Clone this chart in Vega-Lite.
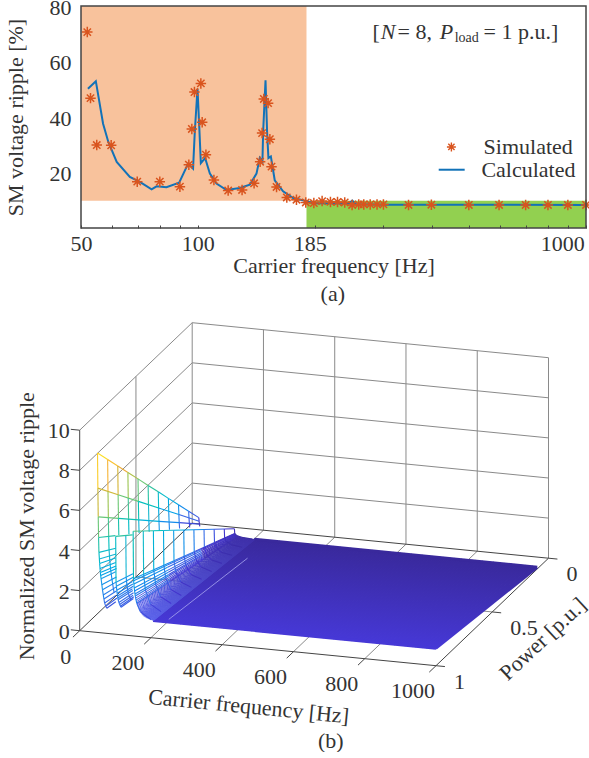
{"$schema":"https://vega.github.io/schema/vega-lite/v6.json","padding":{"left":4,"top":-4,"right":0,"bottom":0},"spacing":4,"background":"white","config":{"font":"Liberation Serif","text":{"font":"Liberation Serif","fontSize":22,"color":"#333"},"axis":{"labelFont":"Liberation Serif","titleFont":"Liberation Serif","labelFontSize":22,"titleFontSize":22,"titleFontWeight":"normal","labelColor":"#333","titleColor":"#333","grid":false}},
"datasets":{
"sim":[{"f":51.9,"v":70.6},{"f":52.9,"v":46.8},{"f":54.9,"v":29.9},{"f":59.8,"v":29.8},{"f":69.8,"v":16.7},{"f":79.8,"v":16.7},{"f":89.9,"v":14.9},{"f":94.8,"v":22.8},{"f":96.5,"v":35.7},{"f":98,"v":49},{"f":101.8,"v":52.1},{"f":102.6,"v":38.1},{"f":104.9,"v":26.4},{"f":110,"v":17.3},{"f":119.7,"v":13.5},{"f":130,"v":13.7},{"f":139.6,"v":16.1},{"f":144.7,"v":23.9},{"f":146.4,"v":34.2},{"f":147.9,"v":46.5},{"f":151.7,"v":45},{"f":153.3,"v":32},{"f":154.8,"v":22.1},{"f":159.5,"v":14.8},{"f":169.5,"v":11},{"f":179.5,"v":10.2},{"f":189.7,"v":9.2},{"f":199,"v":9},{"f":209,"v":9.7},{"f":219.6,"v":9.4},{"f":229,"v":9.4},{"f":239,"v":9.2},{"f":249.7,"v":8.3},{"f":259.7,"v":8.5},{"f":267.6,"v":8.5},{"f":278,"v":8.5},{"f":289.5,"v":8.5},{"f":300.7,"v":8.5},{"f":349,"v":8.3},{"f":399.6,"v":8.4},{"f":499,"v":8.3},{"f":597,"v":8.3},{"f":699,"v":8.3},{"f":798,"v":8.3},{"f":898,"v":8.3},{"f":1000,"v":8.3}],
"calc":[{"f":52.1,"v":50.2},{"f":54.6,"v":52.9},{"f":57,"v":37.6},{"f":58.8,"v":31},{"f":61.8,"v":23.8},{"f":66.8,"v":18.4},{"f":70.9,"v":16.6},{"f":76,"v":13.9},{"f":78.3,"v":15},{"f":83,"v":14.7},{"f":89.5,"v":16.3},{"f":94.4,"v":23.2},{"f":97.2,"v":21.4},{"f":98.2,"v":34.6},{"f":99.8,"v":50.2},{"f":100.8,"v":37},{"f":101.8,"v":23.4},{"f":104.4,"v":25.2},{"f":107.4,"v":19.6},{"f":111.7,"v":16},{"f":118.5,"v":13.7},{"f":128.3,"v":14.4},{"f":136.1,"v":15.6},{"f":141.6,"v":19.6},{"f":144.4,"v":25.3},{"f":146.7,"v":24},{"f":147.3,"v":34.6},{"f":149.4,"v":53.2},{"f":150.8,"v":34.6},{"f":152,"v":25.2},{"f":154.2,"v":25.8},{"f":157.8,"v":17.2},{"f":165.8,"v":13.2},{"f":176,"v":10.8},{"f":188.6,"v":9.8},{"f":199,"v":8.9},{"f":245,"v":8.8},{"f":250,"v":9.9},{"f":255,"v":8.6},{"f":310,"v":8.4},{"f":1000,"v":8.3}],
"d3":[
{"k":"g","f":0,"p":1,"z":2,"p2":0},{"k":"g","f":0,"p":1,"z":4,"p2":0},{"k":"g","f":0,"p":1,"z":6,"p2":0},{"k":"g","f":0,"p":1,"z":8,"p2":0},{"k":"g","f":0,"p":1,"z":10,"p2":0},
{"k":"g","f":0,"p":0,"z":2,"f2":1000},{"k":"g","f":0,"p":0,"z":4,"f2":1000},{"k":"g","f":0,"p":0,"z":6,"f2":1000},{"k":"g","f":0,"p":0,"z":8,"f2":1000},{"k":"g","f":0,"p":0,"z":10,"f2":1000},
{"k":"g","f":0,"p":0.5,"z":0,"z2":10},{"k":"g","f":0,"p":0,"z":0,"z2":10},{"k":"g","f":200,"p":0,"z":0,"z2":10},{"k":"g","f":400,"p":0,"z":0,"z2":10},{"k":"g","f":600,"p":0,"z":0,"z2":10},{"k":"g","f":800,"p":0,"z":0,"z2":10},{"k":"g","f":1000,"p":0,"z":0,"z2":10},
{"k":"g","f":200,"p":1,"z":0,"p2":0},{"k":"g","f":400,"p":1,"z":0,"p2":0},{"k":"g","f":600,"p":1,"z":0,"p2":0},{"k":"g","f":800,"p":1,"z":0,"p2":0},{"k":"g","f":0,"p":0.5,"z":0,"f2":1000},
{"k":"a","f":0,"p":1,"z":0,"z2":10},{"k":"a","f":0,"p":1,"z":0,"f2":1000},{"k":"a","f":1000,"p":1,"z":0,"p2":0},{"k":"a","f":0,"p":1,"z":0,"p2":0},{"k":"a","f":0,"p":0,"z":0,"f2":1000},
{"k":"a","f":0,"p":1,"z":0,"p2":1.06},{"k":"a","f":200,"p":1,"z":0,"p2":1.06},{"k":"a","f":400,"p":1,"z":0,"p2":1.06},{"k":"a","f":600,"p":1,"z":0,"p2":1.06},{"k":"a","f":800,"p":1,"z":0,"p2":1.06},{"k":"a","f":1000,"p":1,"z":0,"p2":1.06},
{"k":"a","f":1000,"p":1,"z":0,"f2":1025},{"k":"a","f":1000,"p":0.5,"z":0,"f2":1025},{"k":"a","f":1000,"p":0,"z":0,"f2":1025},
{"k":"a","f":0,"p":1,"z":0,"f2":-25},{"k":"a","f":0,"p":1,"z":2,"f2":-25},{"k":"a","f":0,"p":1,"z":4,"f2":-25},{"k":"a","f":0,"p":1,"z":6,"f2":-25},{"k":"a","f":0,"p":1,"z":8,"f2":-25},{"k":"a","f":0,"p":1,"z":10,"f2":-25},
{"k":"u","f":210,"p":1,"z":0.87,"p2":0.1,"z2":0.09},{"k":"u","f":220,"p":1,"z":0.87,"p2":0.1,"z2":0.09},{"k":"u","f":230,"p":1,"z":0.87,"p2":0.1,"z2":0.09},{"k":"u","f":240,"p":1,"z":0.87,"p2":0.1,"z2":0.09},{"k":"u","f":250,"p":1,"z":0.87,"p2":0.1,"z2":0.09},{"k":"u","f":260,"p":1,"z":0.87,"p2":0.1,"z2":0.09},{"k":"u","f":270,"p":1,"z":0.87,"p2":0.1,"z2":0.09},{"k":"u","f":280,"p":1,"z":0.87,"p2":0.1,"z2":0.09},{"k":"u","f":290,"p":1,"z":0.87,"p2":0.1,"z2":0.09},{"k":"u","f":300,"p":1,"z":0.87,"p2":0.1,"z2":0.09},{"k":"u","f":310,"p":1,"z":0.87,"p2":0.1,"z2":0.09},{"k":"u","f":320,"p":1,"z":0.87,"p2":0.1,"z2":0.09},{"k":"u","f":330,"p":1,"z":0.87,"p2":0.1,"z2":0.09},{"k":"u","f":340,"p":1,"z":0.87,"p2":0.1,"z2":0.09},{"k":"u","f":350,"p":1,"z":0.87,"p2":0.1,"z2":0.09},{"k":"u","f":360,"p":1,"z":0.87,"p2":0.1,"z2":0.09},{"k":"u","f":370,"p":1,"z":0.87,"p2":0.1,"z2":0.09},{"k":"u","f":380,"p":1,"z":0.87,"p2":0.1,"z2":0.09},{"k":"u","f":390,"p":1,"z":0.87,"p2":0.1,"z2":0.09},{"k":"u","f":400,"p":1,"z":0.87,"p2":0.1,"z2":0.09},{"k":"u","f":410,"p":1,"z":0.87,"p2":0.1,"z2":0.09},{"k":"u","f":420,"p":1,"z":0.87,"p2":0.1,"z2":0.09},{"k":"u","f":430,"p":1,"z":0.87,"p2":0.1,"z2":0.09},{"k":"u","f":440,"p":1,"z":0.87,"p2":0.1,"z2":0.09},{"k":"u","f":450,"p":1,"z":0.87,"p2":0.1,"z2":0.09},{"k":"u","f":460,"p":1,"z":0.87,"p2":0.1,"z2":0.09},{"k":"u","f":470,"p":1,"z":0.87,"p2":0.1,"z2":0.09},{"k":"u","f":480,"p":1,"z":0.87,"p2":0.1,"z2":0.09},{"k":"u","f":490,"p":1,"z":0.87,"p2":0.1,"z2":0.09},{"k":"u","f":500,"p":1,"z":0.87,"p2":0.1,"z2":0.09},{"k":"u","f":510,"p":1,"z":0.87,"p2":0.1,"z2":0.09},{"k":"u","f":520,"p":1,"z":0.87,"p2":0.1,"z2":0.09},{"k":"u","f":530,"p":1,"z":0.87,"p2":0.1,"z2":0.09},{"k":"u","f":540,"p":1,"z":0.87,"p2":0.1,"z2":0.09},{"k":"u","f":550,"p":1,"z":0.87,"p2":0.1,"z2":0.09},{"k":"u","f":560,"p":1,"z":0.87,"p2":0.1,"z2":0.09},{"k":"u","f":570,"p":1,"z":0.87,"p2":0.1,"z2":0.09},{"k":"u","f":580,"p":1,"z":0.87,"p2":0.1,"z2":0.09},{"k":"u","f":590,"p":1,"z":0.87,"p2":0.1,"z2":0.09},{"k":"u","f":600,"p":1,"z":0.87,"p2":0.1,"z2":0.09},{"k":"u","f":610,"p":1,"z":0.87,"p2":0.1,"z2":0.09},{"k":"u","f":620,"p":1,"z":0.87,"p2":0.1,"z2":0.09},{"k":"u","f":630,"p":1,"z":0.87,"p2":0.1,"z2":0.09},{"k":"u","f":640,"p":1,"z":0.87,"p2":0.1,"z2":0.09},{"k":"u","f":650,"p":1,"z":0.87,"p2":0.1,"z2":0.09},{"k":"u","f":660,"p":1,"z":0.87,"p2":0.1,"z2":0.09},{"k":"u","f":670,"p":1,"z":0.87,"p2":0.1,"z2":0.09},{"k":"u","f":680,"p":1,"z":0.87,"p2":0.1,"z2":0.09},{"k":"u","f":690,"p":1,"z":0.87,"p2":0.1,"z2":0.09},{"k":"u","f":700,"p":1,"z":0.87,"p2":0.1,"z2":0.09},{"k":"u","f":710,"p":1,"z":0.87,"p2":0.1,"z2":0.09},{"k":"u","f":720,"p":1,"z":0.87,"p2":0.1,"z2":0.09},{"k":"u","f":730,"p":1,"z":0.87,"p2":0.1,"z2":0.09},{"k":"u","f":740,"p":1,"z":0.87,"p2":0.1,"z2":0.09},{"k":"u","f":750,"p":1,"z":0.87,"p2":0.1,"z2":0.09},{"k":"u","f":760,"p":1,"z":0.87,"p2":0.1,"z2":0.09},{"k":"u","f":770,"p":1,"z":0.87,"p2":0.1,"z2":0.09},{"k":"u","f":780,"p":1,"z":0.87,"p2":0.1,"z2":0.09},{"k":"u","f":790,"p":1,"z":0.87,"p2":0.1,"z2":0.09},{"k":"u","f":800,"p":1,"z":0.87,"p2":0.1,"z2":0.09},{"k":"u","f":810,"p":1,"z":0.87,"p2":0.1,"z2":0.09},{"k":"u","f":820,"p":1,"z":0.87,"p2":0.1,"z2":0.09},{"k":"u","f":830,"p":1,"z":0.87,"p2":0.1,"z2":0.09},{"k":"u","f":840,"p":1,"z":0.87,"p2":0.1,"z2":0.09},{"k":"u","f":850,"p":1,"z":0.87,"p2":0.1,"z2":0.09},{"k":"u","f":860,"p":1,"z":0.87,"p2":0.1,"z2":0.09},{"k":"u","f":870,"p":1,"z":0.87,"p2":0.1,"z2":0.09},{"k":"u","f":880,"p":1,"z":0.87,"p2":0.1,"z2":0.09},{"k":"u","f":890,"p":1,"z":0.87,"p2":0.1,"z2":0.09},{"k":"u","f":900,"p":1,"z":0.87,"p2":0.1,"z2":0.09},{"k":"u","f":910,"p":1,"z":0.87,"p2":0.1,"z2":0.09},{"k":"u","f":920,"p":1,"z":0.87,"p2":0.1,"z2":0.09},{"k":"u","f":930,"p":1,"z":0.87,"p2":0.1,"z2":0.09},{"k":"u","f":940,"p":1,"z":0.87,"p2":0.1,"z2":0.09},{"k":"u","f":950,"p":1,"z":0.87,"p2":0.1,"z2":0.09},{"k":"u","f":960,"p":1,"z":0.87,"p2":0.1,"z2":0.09},{"k":"u","f":970,"p":1,"z":0.87,"p2":0.1,"z2":0.09},{"k":"u","f":980,"p":1,"z":0.87,"p2":0.1,"z2":0.09},{"k":"u","f":990,"p":1,"z":0.87,"p2":0.1,"z2":0.09},{"k":"u","f":999,"p":1,"z":0.87,"p2":0.1,"z2":0.09},
{"k":"e1","f":206,"f2":1000,"p":1,"z":0.87,"z2":0.87},{"k":"e2","f":206,"f2":1000,"p":0.1,"z":0.09,"z2":0.09},
{"k":"s","f":157,"p":1,"z":1.9,"p2":0.1,"z2":0.19},{"k":"s","f":159,"p":1,"z":1.72,"p2":0.1,"z2":0.17},{"k":"s","f":161,"p":1,"z":1.62,"p2":0.1,"z2":0.16},{"k":"s","f":163,"p":1,"z":1.53,"p2":0.1,"z2":0.15},{"k":"s","f":165,"p":1,"z":1.43,"p2":0.1,"z2":0.14},{"k":"s","f":167,"p":1,"z":1.34,"p2":0.1,"z2":0.13},{"k":"s","f":169,"p":1,"z":1.28,"p2":0.1,"z2":0.13},{"k":"s","f":171,"p":1,"z":1.22,"p2":0.1,"z2":0.12},{"k":"s","f":173,"p":1,"z":1.17,"p2":0.1,"z2":0.12},{"k":"s","f":175,"p":1,"z":1.13,"p2":0.1,"z2":0.11},{"k":"s","f":177,"p":1,"z":1.09,"p2":0.1,"z2":0.11},{"k":"s","f":179,"p":1,"z":1.06,"p2":0.1,"z2":0.11},{"k":"s","f":181,"p":1,"z":1.04,"p2":0.1,"z2":0.1},{"k":"s","f":183,"p":1,"z":1.02,"p2":0.1,"z2":0.1},{"k":"s","f":185,"p":1,"z":1,"p2":0.1,"z2":0.1},{"k":"s","f":187,"p":1,"z":0.98,"p2":0.1,"z2":0.1},{"k":"s","f":189,"p":1,"z":0.97,"p2":0.1,"z2":0.1},{"k":"s","f":191,"p":1,"z":0.96,"p2":0.1,"z2":0.1},{"k":"s","f":193,"p":1,"z":0.95,"p2":0.1,"z2":0.09},{"k":"s","f":195,"p":1,"z":0.94,"p2":0.1,"z2":0.09},{"k":"s","f":197,"p":1,"z":0.93,"p2":0.1,"z2":0.09},{"k":"s","f":199,"p":1,"z":0.91,"p2":0.1,"z2":0.09},{"k":"s","f":201,"p":1,"z":0.9,"p2":0.1,"z2":0.09},{"k":"s","f":202,"p":1,"z":0.9,"p2":0.1,"z2":0.09},{"k":"s","f":204,"p":1,"z":0.89,"p2":0.1,"z2":0.09},{"k":"s","f":205,"p":1,"z":0.88,"p2":0.1,"z2":0.09},{"k":"s","f":207,"p":1,"z":0.88,"p2":0.1,"z2":0.09},{"k":"s","f":208,"p":1,"z":0.88,"p2":0.1,"z2":0.09},
{"k":"s","f":162,"p":1,"z":1.58,"p2":0.1,"z2":0.16},{"k":"s","f":164,"p":1,"z":1.48,"p2":0.1,"z2":0.15},{"k":"s","f":166,"p":1,"z":1.38,"p2":0.1,"z2":0.14},{"k":"s","f":168,"p":1,"z":1.31,"p2":0.1,"z2":0.13},{"k":"s","f":170,"p":1,"z":1.25,"p2":0.1,"z2":0.13},{"k":"s","f":172,"p":1,"z":1.2,"p2":0.1,"z2":0.12},{"k":"s","f":174,"p":1,"z":1.15,"p2":0.1,"z2":0.12},{"k":"s","f":176,"p":1,"z":1.11,"p2":0.1,"z2":0.11},{"k":"s","f":178,"p":1,"z":1.08,"p2":0.1,"z2":0.11},{"k":"s","f":180,"p":1,"z":1.05,"p2":0.1,"z2":0.11},{"k":"s","f":182,"p":1,"z":1.03,"p2":0.1,"z2":0.1},{"k":"s","f":184,"p":1,"z":1.01,"p2":0.1,"z2":0.1},{"k":"s","f":186,"p":1,"z":0.99,"p2":0.1,"z2":0.1},{"k":"s","f":188,"p":1,"z":0.97,"p2":0.1,"z2":0.1},{"k":"s","f":190,"p":1,"z":0.96,"p2":0.1,"z2":0.1},{"k":"s","f":192,"p":1,"z":0.95,"p2":0.1,"z2":0.1},{"k":"s","f":194,"p":1,"z":0.94,"p2":0.1,"z2":0.09},{"k":"s","f":196,"p":1,"z":0.93,"p2":0.1,"z2":0.09},{"k":"s","f":198,"p":1,"z":0.92,"p2":0.1,"z2":0.09},{"k":"s","f":200,"p":1,"z":0.9,"p2":0.1,"z2":0.09},{"k":"s","f":203,"p":1,"z":0.89,"p2":0.1,"z2":0.09},{"k":"s","f":206,"p":1,"z":0.88,"p2":0.1,"z2":0.09},
{"k":"l","f":250,"p":1,"z":1,"p2":0.3,"z2":0.3},
{"k":"m","f":50,"p":1,"z":8.95,"p2":0.91,"z2":8.14},{"k":"m","f":50,"p":0.91,"z":8.14,"p2":0.82,"z2":7.34},{"k":"m","f":50,"p":0.82,"z":7.34,"p2":0.73,"z2":6.53},{"k":"m","f":50,"p":0.73,"z":6.53,"p2":0.64,"z2":5.73},{"k":"m","f":50,"p":0.64,"z":5.73,"p2":0.55,"z2":4.92},{"k":"m","f":50,"p":0.55,"z":4.92,"p2":0.46,"z2":4.12},{"k":"m","f":50,"p":0.46,"z":4.12,"p2":0.37,"z2":3.31},{"k":"m","f":50,"p":0.37,"z":3.31,"p2":0.28,"z2":2.51},{"k":"m","f":50,"p":0.28,"z":2.51,"p2":0.19,"z2":1.7},{"k":"m","f":50,"p":0.19,"z":1.7,"p2":0.1,"z2":0.9},
{"k":"m","f":51,"p":1,"z":7.2,"p2":0.82,"z2":5.9},{"k":"m","f":51,"p":0.82,"z":5.9,"p2":0.64,"z2":4.61},{"k":"m","f":51,"p":0.64,"z":4.61,"p2":0.46,"z2":3.31},{"k":"m","f":51,"p":0.46,"z":3.31,"p2":0.28,"z2":2.02},{"k":"m","f":51,"p":0.28,"z":2.02,"p2":0.1,"z2":0.72},
{"k":"m","f":52,"p":1,"z":5.77,"p2":0.82,"z2":4.73},{"k":"m","f":52,"p":0.82,"z":4.73,"p2":0.64,"z2":3.69},{"k":"m","f":52,"p":0.64,"z":3.69,"p2":0.46,"z2":2.65},{"k":"m","f":52,"p":0.46,"z":2.65,"p2":0.28,"z2":1.62},{"k":"m","f":52,"p":0.28,"z":1.62,"p2":0.1,"z2":0.58},
{"k":"m","f":53,"p":1,"z":4.74,"p2":0.85,"z2":4.03},{"k":"m","f":54,"p":1,"z":4,"p2":0.85,"z2":3.4},{"k":"m","f":55,"p":1,"z":3.67,"p2":0.85,"z2":3.12},{"k":"m","f":56,"p":1,"z":3.45,"p2":0.86,"z2":2.97},{"k":"m","f":57,"p":1,"z":3.2,"p2":0.86,"z2":2.75},{"k":"m","f":58,"p":1,"z":3,"p2":0.86,"z2":2.58},{"k":"m","f":59,"p":1,"z":2.85,"p2":0.86,"z2":2.45},{"k":"m","f":60,"p":1,"z":2.7,"p2":0.87,"z2":2.35},{"k":"m","f":62,"p":1,"z":2.4,"p2":0.87,"z2":2.09},{"k":"m","f":64,"p":1,"z":2.15,"p2":0.88,"z2":1.89},{"k":"m","f":66,"p":1,"z":1.9,"p2":0.88,"z2":1.67},{"k":"m","f":68,"p":1,"z":1.7,"p2":0.89,"z2":1.51},{"k":"m","f":70,"p":1,"z":1.5,"p2":0.9,"z2":1.35},{"k":"m","f":73,"p":1,"z":1.35,"p2":0.9,"z2":1.22},{"k":"m","f":76,"p":1,"z":1.25,"p2":0.92,"z2":1.15},
{"k":"m","f":50,"f2":51,"p":1,"z":8.95,"z2":7.2},{"k":"m","f":51,"f2":52,"p":1,"z":7.2,"z2":5.77},{"k":"m","f":52,"f2":53,"p":1,"z":5.77,"z2":4.74},{"k":"m","f":53,"f2":54,"p":1,"z":4.74,"z2":4},{"k":"m","f":54,"f2":56,"p":1,"z":4,"z2":3.45},{"k":"m","f":56,"f2":58,"p":1,"z":3.45,"z2":3},{"k":"m","f":58,"f2":60,"p":1,"z":3,"z2":2.7},{"k":"m","f":60,"f2":64,"p":1,"z":2.7,"z2":2.15},{"k":"m","f":64,"f2":68,"p":1,"z":2.15,"z2":1.7},{"k":"m","f":68,"f2":70,"p":1,"z":1.7,"z2":1.5},{"k":"m","f":70,"f2":73,"p":1,"z":1.5,"z2":1.35},{"k":"m","f":73,"f2":76,"p":1,"z":1.35,"z2":1.25},
{"k":"m","f":50,"f2":51,"p":0.91,"z":8.14,"z2":6.55},{"k":"m","f":51,"f2":52,"p":0.91,"z":6.55,"z2":5.25},{"k":"m","f":52,"f2":53,"p":0.91,"z":5.25,"z2":4.31},{"k":"m","f":53,"f2":54,"p":0.91,"z":4.31,"z2":3.64},{"k":"m","f":54,"f2":56,"p":0.91,"z":3.64,"z2":3.14},{"k":"m","f":56,"f2":58,"p":0.91,"z":3.14,"z2":2.73},{"k":"m","f":58,"f2":60,"p":0.91,"z":2.73,"z2":2.46},{"k":"m","f":60,"f2":64,"p":0.91,"z":2.46,"z2":1.96},{"k":"m","f":64,"f2":68,"p":0.91,"z":1.96,"z2":1.55},
{"k":"m","f":50,"f2":51,"p":0.82,"z":7.34,"z2":5.9},{"k":"m","f":51,"f2":52,"p":0.82,"z":5.9,"z2":4.73},{"k":"m","f":52,"f2":53,"p":0.82,"z":4.73,"z2":3.89},
{"k":"m","f":50,"f2":51,"p":0.73,"z":6.53,"z2":5.26},{"k":"m","f":51,"f2":52,"p":0.73,"z":5.26,"z2":4.21},{"k":"m","f":52,"f2":53,"p":0.73,"z":4.21,"z2":3.46},
{"k":"m","f":50,"f2":51,"p":0.64,"z":5.73,"z2":4.61},{"k":"m","f":51,"f2":52,"p":0.64,"z":4.61,"z2":3.69},{"k":"m","f":52,"f2":53,"p":0.64,"z":3.69,"z2":3.03},
{"k":"m","f":50,"f2":51,"p":0.55,"z":4.92,"z2":3.96},{"k":"m","f":51,"f2":52,"p":0.55,"z":3.96,"z2":3.17},{"k":"m","f":52,"f2":53,"p":0.55,"z":3.17,"z2":2.61},
{"k":"m","f":50,"f2":51,"p":0.46,"z":4.12,"z2":3.31},{"k":"m","f":51,"f2":52,"p":0.46,"z":3.31,"z2":2.65},{"k":"m","f":52,"f2":53,"p":0.46,"z":2.65,"z2":2.18},
{"k":"m","f":50,"f2":51,"p":0.37,"z":3.31,"z2":2.66},{"k":"m","f":51,"f2":52,"p":0.37,"z":2.66,"z2":2.13},{"k":"m","f":52,"f2":53,"p":0.37,"z":2.13,"z2":1.75},
{"k":"m","f":50,"f2":51,"p":0.28,"z":2.51,"z2":2.02},{"k":"m","f":51,"f2":52,"p":0.28,"z":2.02,"z2":1.62},{"k":"m","f":52,"f2":53,"p":0.28,"z":1.62,"z2":1.33},
{"k":"m","f":50,"f2":51,"p":0.19,"z":1.7,"z2":1.37},{"k":"m","f":51,"f2":52,"p":0.19,"z":1.37,"z2":1.1},{"k":"m","f":52,"f2":53,"p":0.19,"z":1.1,"z2":0.9},
{"k":"m","f":50,"f2":51,"p":0.1,"z":0.9,"z2":0.72},{"k":"m","f":51,"f2":52,"p":0.1,"z":0.72,"z2":0.58},{"k":"m","f":52,"f2":53,"p":0.1,"z":0.58,"z2":0.47},
{"k":"m","f":101,"p":1,"z":4.88,"p2":0.85,"z2":4.15},{"k":"m","f":102,"p":1,"z":2.6,"p2":0.85,"z2":2.21},{"k":"m","f":103,"p":1,"z":2.4,"p2":0.85,"z2":2.04},{"k":"m","f":104,"p":1,"z":2.2,"p2":0.86,"z2":1.89},{"k":"m","f":105,"p":1,"z":2.05,"p2":0.86,"z2":1.76},{"k":"m","f":106,"p":1,"z":1.92,"p2":0.86,"z2":1.65},{"k":"m","f":107,"p":1,"z":1.82,"p2":0.87,"z2":1.58},{"k":"m","f":108,"p":1,"z":1.73,"p2":0.87,"z2":1.5},{"k":"m","f":110,"p":1,"z":1.6,"p2":0.87,"z2":1.39},{"k":"m","f":112,"p":1,"z":1.5,"p2":0.88,"z2":1.32},{"k":"m","f":114,"p":1,"z":1.42,"p2":0.88,"z2":1.25},{"k":"m","f":116,"p":1,"z":1.37,"p2":0.89,"z2":1.22},
{"k":"m","f":101,"f2":102,"p":1,"z":4.88,"z2":2.6},{"k":"m","f":102,"f2":103,"p":1,"z":2.6,"z2":2.4},{"k":"m","f":103,"f2":105,"p":1,"z":2.4,"z2":2.05},{"k":"m","f":105,"f2":108,"p":1,"z":2.05,"z2":1.73},{"k":"m","f":108,"f2":112,"p":1,"z":1.73,"z2":1.5},{"k":"m","f":112,"f2":116,"p":1,"z":1.5,"z2":1.37},
{"k":"m","f":101,"f2":102,"p":0.91,"z":4.44,"z2":2.37},{"k":"m","f":102,"f2":103,"p":0.91,"z":2.37,"z2":2.18},{"k":"m","f":103,"f2":105,"p":0.91,"z":2.18,"z2":1.87},{"k":"m","f":105,"f2":108,"p":0.91,"z":1.87,"z2":1.57},{"k":"m","f":108,"f2":112,"p":0.91,"z":1.57,"z2":1.37},{"k":"m","f":112,"f2":116,"p":0.91,"z":1.37,"z2":1.25},
{"k":"m","f":150,"p":1,"z":5.22,"p2":0.91,"z2":4.75},{"k":"m","f":150,"p":0.91,"z":4.75,"p2":0.82,"z2":4.28},{"k":"m","f":150,"p":0.82,"z":4.28,"p2":0.73,"z2":3.81},{"k":"m","f":150,"p":0.73,"z":3.81,"p2":0.64,"z2":3.34},{"k":"m","f":150,"p":0.64,"z":3.34,"p2":0.55,"z2":2.87},{"k":"m","f":150,"p":0.55,"z":2.87,"p2":0.46,"z2":2.4},{"k":"m","f":150,"p":0.46,"z":2.4,"p2":0.37,"z2":1.93},{"k":"m","f":150,"p":0.37,"z":1.93,"p2":0.28,"z2":1.46},{"k":"m","f":150,"p":0.28,"z":1.46,"p2":0.19,"z2":0.99},{"k":"m","f":150,"p":0.19,"z":0.99,"p2":0.1,"z2":0.52},
{"k":"m","f":151,"p":1,"z":2.85,"p2":0.82,"z2":2.34},{"k":"m","f":151,"p":0.82,"z":2.34,"p2":0.64,"z2":1.82},{"k":"m","f":151,"p":0.64,"z":1.82,"p2":0.46,"z2":1.31},{"k":"m","f":151,"p":0.46,"z":1.31,"p2":0.28,"z2":0.8},{"k":"m","f":151,"p":0.28,"z":0.8,"p2":0.1,"z2":0.29},
{"k":"m","f":151.4,"p":1,"z":2.75,"p2":0.7,"z2":1.93},{"k":"m","f":151.4,"p":0.7,"z":1.93,"p2":0.4,"z2":1.1},{"k":"m","f":151.4,"p":0.4,"z":1.1,"p2":0.1,"z2":0.28},
{"k":"m","f":152,"p":1,"z":2.6,"p2":0.7,"z2":1.82},{"k":"m","f":152,"p":0.7,"z":1.82,"p2":0.4,"z2":1.04},{"k":"m","f":152,"p":0.4,"z":1.04,"p2":0.1,"z2":0.26},
{"k":"m","f":153,"p":1,"z":2.4,"p2":0.7,"z2":1.68},{"k":"m","f":153,"p":0.7,"z":1.68,"p2":0.4,"z2":0.96},{"k":"m","f":153,"p":0.4,"z":0.96,"p2":0.1,"z2":0.24},
{"k":"m","f":154,"p":1,"z":2.25,"p2":0.7,"z2":1.58},{"k":"m","f":154,"p":0.7,"z":1.58,"p2":0.4,"z2":0.9},{"k":"m","f":154,"p":0.4,"z":0.9,"p2":0.1,"z2":0.23},
{"k":"m","f":155,"p":1,"z":2.1,"p2":0.7,"z2":1.47},{"k":"m","f":155,"p":0.7,"z":1.47,"p2":0.4,"z2":0.84},{"k":"m","f":155,"p":0.4,"z":0.84,"p2":0.1,"z2":0.21},
{"k":"m","f":156,"p":1,"z":2,"p2":0.7,"z2":1.4},{"k":"m","f":156,"p":0.7,"z":1.4,"p2":0.4,"z2":0.8},{"k":"m","f":156,"p":0.4,"z":0.8,"p2":0.1,"z2":0.2},
{"k":"m","f":158,"p":1,"z":1.8,"p2":0.7,"z2":1.26},{"k":"m","f":158,"p":0.7,"z":1.26,"p2":0.4,"z2":0.72},{"k":"m","f":158,"p":0.4,"z":0.72,"p2":0.1,"z2":0.18},
{"k":"m","f":160,"p":1,"z":1.65,"p2":0.7,"z2":1.16},{"k":"m","f":160,"p":0.7,"z":1.16,"p2":0.4,"z2":0.66},{"k":"m","f":160,"p":0.4,"z":0.66,"p2":0.1,"z2":0.17},
{"k":"m","f":150,"f2":151,"p":1,"z":5.22,"z2":2.85},{"k":"m","f":151,"f2":153,"p":1,"z":2.85,"z2":2.4},{"k":"m","f":153,"f2":156,"p":1,"z":2.4,"z2":2},{"k":"m","f":156,"f2":160,"p":1,"z":2,"z2":1.65},{"k":"m","f":160,"f2":170,"p":1,"z":1.65,"z2":1.25},{"k":"m","f":170,"f2":200,"p":1,"z":1.25,"z2":0.9},
{"k":"m","f":150,"f2":151,"p":0.91,"z":4.75,"z2":2.59},{"k":"m","f":151,"f2":156,"p":0.91,"z":2.59,"z2":1.82},{"k":"m","f":156,"f2":170,"p":0.91,"z":1.82,"z2":1.14},{"k":"m","f":170,"f2":200,"p":0.91,"z":1.14,"z2":0.82},
{"k":"m","f":150,"f2":151,"p":0.82,"z":4.28,"z2":2.34},{"k":"m","f":151,"f2":156,"p":0.82,"z":2.34,"z2":1.64},{"k":"m","f":156,"f2":170,"p":0.82,"z":1.64,"z2":1.03},{"k":"m","f":170,"f2":200,"p":0.82,"z":1.03,"z2":0.74},
{"k":"m","f":150,"f2":151,"p":0.73,"z":3.81,"z2":2.08},{"k":"m","f":151,"f2":156,"p":0.73,"z":2.08,"z2":1.46},{"k":"m","f":156,"f2":170,"p":0.73,"z":1.46,"z2":0.91},{"k":"m","f":170,"f2":200,"p":0.73,"z":0.91,"z2":0.66},
{"k":"m","f":150,"f2":151,"p":0.64,"z":3.34,"z2":1.82},{"k":"m","f":151,"f2":156,"p":0.64,"z":1.82,"z2":1.28},{"k":"m","f":156,"f2":170,"p":0.64,"z":1.28,"z2":0.8},{"k":"m","f":170,"f2":200,"p":0.64,"z":0.8,"z2":0.58},
{"k":"m","f":150,"f2":151,"p":0.55,"z":2.87,"z2":1.57},{"k":"m","f":151,"f2":156,"p":0.55,"z":1.57,"z2":1.1},{"k":"m","f":156,"f2":170,"p":0.55,"z":1.1,"z2":0.69},{"k":"m","f":170,"f2":200,"p":0.55,"z":0.69,"z2":0.5},
{"k":"m","f":150,"f2":151,"p":0.46,"z":2.4,"z2":1.31},{"k":"m","f":151,"f2":156,"p":0.46,"z":1.31,"z2":0.92},{"k":"m","f":156,"f2":170,"p":0.46,"z":0.92,"z2":0.58},{"k":"m","f":170,"f2":200,"p":0.46,"z":0.58,"z2":0.41},
{"k":"m","f":150,"f2":151,"p":0.37,"z":1.93,"z2":1.05},{"k":"m","f":151,"f2":156,"p":0.37,"z":1.05,"z2":0.74},{"k":"m","f":156,"f2":170,"p":0.37,"z":0.74,"z2":0.46},{"k":"m","f":170,"f2":200,"p":0.37,"z":0.46,"z2":0.33},
{"k":"m","f":150,"f2":151,"p":0.28,"z":1.46,"z2":0.8},{"k":"m","f":151,"f2":156,"p":0.28,"z":0.8,"z2":0.56},{"k":"m","f":156,"f2":170,"p":0.28,"z":0.56,"z2":0.35},{"k":"m","f":170,"f2":200,"p":0.28,"z":0.35,"z2":0.25},
{"k":"m","f":150,"f2":151,"p":0.19,"z":0.99,"z2":0.54},{"k":"m","f":151,"f2":156,"p":0.19,"z":0.54,"z2":0.38},{"k":"m","f":156,"f2":170,"p":0.19,"z":0.38,"z2":0.24},{"k":"m","f":170,"f2":200,"p":0.19,"z":0.24,"z2":0.17},
{"k":"m","f":150,"f2":151,"p":0.1,"z":0.52,"z2":0.29},{"k":"m","f":151,"f2":156,"p":0.1,"z":0.29,"z2":0.2},{"k":"m","f":156,"f2":170,"p":0.1,"z":0.2,"z2":0.13},{"k":"m","f":170,"f2":200,"p":0.1,"z":0.13,"z2":0.09},
{"k":"zl","f":0,"p":1,"z":0,"t":"0"},{"k":"zl","f":0,"p":1,"z":2,"t":"2"},{"k":"zl","f":0,"p":1,"z":4,"t":"4"},{"k":"zl","f":0,"p":1,"z":6,"t":"6"},{"k":"zl","f":0,"p":1,"z":8,"t":"8"},{"k":"zl","f":0,"p":1,"z":10,"t":"10"},
{"k":"x0","f":0,"p":1,"z":0,"t":"0"},{"k":"xl","f":200,"p":1,"z":0,"t":"200"},{"k":"xl","f":400,"p":1,"z":0,"t":"400"},{"k":"xl","f":600,"p":1,"z":0,"t":"600"},{"k":"xl","f":800,"p":1,"z":0,"t":"800"},{"k":"xl","f":1000,"p":1,"z":0,"t":"1000"},
{"k":"pl","f":1000,"p":0,"z":0,"t":"0"},{"k":"pl","f":1000,"p":0.5,"z":0,"t":"0.5"},{"k":"pl","f":1000,"p":1,"z":0,"t":"1"},
{"k":"t","f":632,"p":1.5,"z":0,"t":"Carrier frequency [Hz]","a":5.6},{"k":"t","f":0,"p":1.468,"z":7.72,"t":"Normalized SM voltage ripple","a":270},{"k":"t","f":1201,"p":0.686,"z":0,"t":"Power [p.u.]","a":317},{"k":"t","f":932,"p":1.72,"z":0,"t":"(b)","a":0}
]},
"vconcat":[
{"width":505,"height":222,"view":{"stroke":null},
"encoding":{"x":{"field":"f","type":"quantitative","scale":{"type":"log","domain":[50,1000],"nice":false},"axis":{"title":"Carrier frequency [Hz]","values":[50,60,70,80,90,100,200,300,400,500,600,700,800,900,1000],"labelExpr":"datum.value==50?'50':datum.value==100?'100':datum.value==200?'185':datum.value==900?'1000':''","labelOverlap":false,"labelBound":false,"labelFlush":false,"labelAngle":0,"domain":false,"tickSize":-3,"tickColor":"#444","tickWidth":1,"labelPadding":8,"titlePadding":1,"zindex":2,"labelOffset":{"condition":[{"test":"datum.value==900","value":-6},{"test":"datum.value==200","value":-5}],"value":0}}},
"y":{"field":"v","type":"quantitative","scale":{"domain":[0,80],"nice":false},"axis":{"title":"SM voltage ripple [%]","values":[20,40,60,80],"domain":false,"ticks":false,"labelPadding":10,"titlePadding":22,"labelOffset":1}}},
"layer":[
{"data":{"values":[{"f":50,"f2":190.5,"v":9.8,"v2":80,"c":"o"},{"f":190.5,"f2":1000,"v":0,"v2":9.8,"c":"g"}]},"mark":{"type":"rect"},"encoding":{"x2":{"field":"f2"},"y2":{"field":"v2"},"color":{"field":"c","type":"nominal","scale":{"domain":["o","g"],"range":["#f8c29c","#92d050"]},"legend":null}}},
{"data":{"name":"calc"},"mark":{"type":"line","color":"#1272b8","strokeWidth":2}},
{"data":{"name":"sim"},"mark":{"type":"point","shape":"M0,-1L0,1M-1,0L1,0M-0.7,-0.7L0.7,0.7M-0.7,0.7L0.7,-0.7","size":110,"filled":false,"stroke":"#d9541e","strokeWidth":1.5,"opacity":1}},
{"data":{"values":[{"f":450,"v":29.2}]},"mark":{"type":"point","shape":"M0,-1L0,1M-1,0L1,0M-0.7,-0.7L0.7,0.7M-0.7,0.7L0.7,-0.7","size":80,"filled":false,"stroke":"#d9541e","strokeWidth":1.4,"opacity":1}},
{"data":{"values":[{"f":417.4,"v":21},{"f":486.9,"v":21}]},"mark":{"type":"line","color":"#1272b8","strokeWidth":2}},
{"data":{"values":[{"f":544.8,"v":26.7,"t":"Simulated"},{"f":537.6,"v":18.5,"t":"Calculated"},{"f":281.7,"v":68.2,"t":"["},{"f":327,"v":68.2,"t":"= 8,"},{"f":544.8,"v":68.2,"t":"= 1 p.u.]"}]},"mark":{"type":"text","align":"left","baseline":"alphabetic"},"encoding":{"text":{"field":"t"}}},
{"data":{"values":[{"f":296,"v":68.2,"t":"N"},{"f":420,"v":68.2,"t":"P"}]},"mark":{"type":"text","align":"left","baseline":"alphabetic","fontStyle":"italic"},"encoding":{"text":{"field":"t"}}},
{"data":{"values":[{"f":459,"v":67,"t":"load"}]},"mark":{"type":"text","align":"left","baseline":"alphabetic","fontSize":14},"encoding":{"text":{"field":"t"}}},
{"data":{"values":[{"f":222.7,"v":-23.7,"t":"(a)"}]},"mark":{"type":"text","baseline":"middle"},"encoding":{"text":{"field":"t"}}},
{"data":{"values":[{"f":50,"f2":1000,"v":0,"v2":80}]},"mark":{"type":"rect","fill":null,"stroke":"#444","strokeWidth":1.5},"encoding":{"x2":{"field":"f2"},"y2":{"field":"v2"}}}
]},
{"width":505,"height":440,"view":{"stroke":null},"data":{"name":"d3"},
"transform":[{"calculate":"isValid(datum.f2)?datum.f2:datum.f","as":"fb"},{"calculate":"isValid(datum.p2)?datum.p2:datum.p","as":"pb"},{"calculate":"isValid(datum.z2)?datum.z2:datum.z","as":"zb"},{"calculate":"79.7+0.3563*datum.f+112.5*(1-datum.p)","as":"sx"},{"calculate":"631.7+0.035*datum.f-107.5*(1-datum.p)-20.05*datum.z","as":"sy"},{"calculate":"79.7+0.3563*datum.fb+112.5*(1-datum.pb)","as":"sx2"},{"calculate":"631.7+0.035*datum.fb-107.5*(1-datum.pb)-20.05*datum.zb","as":"sy2"},{"calculate":"(datum.z+datum.zb)/2","as":"zc"}],
"encoding":{"x":{"field":"sx","type":"quantitative","scale":{"domain":[81,586],"nice":false,"zero":false},"axis":null},"y":{"field":"sy","type":"quantitative","scale":{"domain":[750,310],"nice":false,"zero":false},"axis":null}},
"layer":[
{"transform":[{"filter":"datum.k=='g'"}],"mark":{"type":"rule","color":"#8a8a8a","strokeWidth":1},"encoding":{"x2":{"field":"sx2"},"y2":{"field":"sy2"}}},
{"transform":[{"filter":"datum.k=='a'"}],"mark":{"type":"rule","color":"#444","strokeWidth":1},"encoding":{"x2":{"field":"sx2"},"y2":{"field":"sy2"}}},
{"transform":[{"filter":"datum.k=='u'"}],"mark":{"type":"rule","strokeWidth":3.4,"stroke":{"gradient":"linear","x1":0,"y1":1,"x2":1,"y2":0,"stops":[{"offset":0,"color":"#4638d6"},{"offset":1,"color":"#39299c"}]}},"encoding":{"x2":{"field":"sx2"},"y2":{"field":"sy2"}}},
{"transform":[{"filter":"datum.k=='e1'"}],"mark":{"type":"rule","color":"#4638d6","strokeWidth":3},"encoding":{"x2":{"field":"sx2"},"y2":{"field":"sy2"}}},
{"transform":[{"filter":"datum.k=='e2'"}],"mark":{"type":"rule","color":"#39299c","strokeWidth":3},"encoding":{"x2":{"field":"sx2"},"y2":{"field":"sy2"}}},
{"transform":[{"filter":"datum.k=='s'"}],"mark":{"type":"rule","strokeWidth":1,"stroke":{"gradient":"linear","x1":0,"y1":1,"x2":1,"y2":0,"stops":[{"offset":0,"color":"#5a62ea"},{"offset":1,"color":"#3d2ea8"}]}},"encoding":{"x2":{"field":"sx2"},"y2":{"field":"sy2"}}},
{"transform":[{"filter":"datum.k=='l'"}],"mark":{"type":"rule","color":"#a8a6f0","strokeWidth":0.8},"encoding":{"x2":{"field":"sx2"},"y2":{"field":"sy2"}}},
{"transform":[{"filter":"datum.k=='m'"}],"mark":{"type":"rule","strokeWidth":1.1},"encoding":{"x2":{"field":"sx2"},"y2":{"field":"sy2"},"color":{"field":"zc","type":"quantitative","legend":null,"scale":{"domain":[0,0.9,1.5,2.5,3.5,4.5,5.5,7,9],"range":["#38299a","#4437d4","#3a6fe8","#1e9be8","#22b8d0","#2ec2a0","#7cc86a","#f2a93a","#f9ee20"]}}}},
{"transform":[{"filter":"datum.k=='t'"}],"mark":{"type":"text","baseline":"middle","align":"center"},"encoding":{"text":{"field":"t"},"angle":{"field":"a","type":"quantitative","scale":null}}},
{"transform":[{"filter":"datum.k=='zl'"}],"mark":{"type":"text","baseline":"middle","align":"right","dx":-10,"dy":1},"encoding":{"text":{"field":"t"}}},
{"transform":[{"filter":"datum.k=='xl'"}],"mark":{"type":"text","baseline":"middle","align":"center","dx":-23,"dy":25},"encoding":{"text":{"field":"t"}}},
{"transform":[{"filter":"datum.k=='x0'"}],"mark":{"type":"text","baseline":"middle","align":"center","dx":-14,"dy":26},"encoding":{"text":{"field":"t"}}},
{"transform":[{"filter":"datum.k=='pl'"}],"mark":{"type":"text","baseline":"middle","align":"left","dx":18,"dy":16},"encoding":{"text":{"field":"t"}}}
]}
]}
